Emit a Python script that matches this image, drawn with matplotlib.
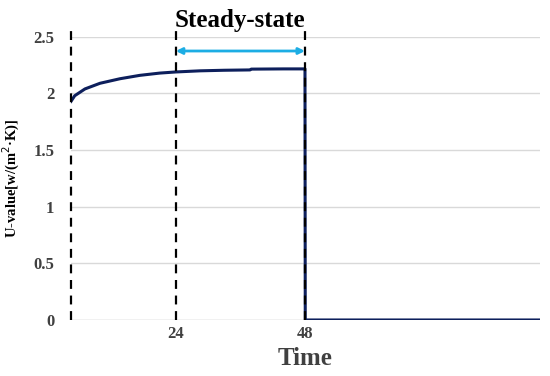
import matplotlib.pyplot as plt

# Values
time_h = [4.5, 5.2, 7.1, 9.9, 13.6, 17.3, 21.0, 24.0, 28.5, 33.0, 37.8, 38.0, 44.0, 48.0,
          48.05, 60.0, 75.0, 91.7]
u_value = [1.93, 1.98, 2.04, 2.09, 2.13, 2.16, 2.18, 2.19, 2.20, 2.205, 2.208, 2.215, 2.217, 2.217,
           0.0, 0.0, 0.0, 0.0]
marks = [4.5, 24, 48]
tick_pos = [24, 48]
tick_labels = ["24", "48"]
y_ticks = [0, 0.5, 1, 1.5, 2, 2.5]
y_tick_labels = ["0", "0.5", "1", "1.5", "2", "2.5"]

serif = "Liberation Serif"

fig = plt.figure(figsize=(5.5, 3.76), dpi=100, facecolor="white")
ax = fig.add_axes([0.129, 0.149, 0.853, 0.753])

ax.plot(time_h, u_value, color="#0d1f5c", lw=2.2, zorder=3)

# dashed markers
for m in marks:
    ax.plot([m, m], [0, 2.57], color="black", ls=(0, (4, 3)), lw=1.6, clip_on=False, zorder=4)

# steady-state arrow
ax.annotate("", xy=(48, 2.375), xytext=(24, 2.375),
            arrowprops=dict(arrowstyle="<|-|>", color="#1cade4", lw=2,
                            mutation_scale=9, shrinkA=0, shrinkB=0))
ax.text(36, 2.585, "Steady-state", ha="center", va="baseline", fontsize=18,
        fontweight="bold", family=serif, color="black")

ax.set_xlim(4.5, 91.7)
ax.set_ylim(0, 2.5)
ax.set_yticks(y_ticks)
ax.set_yticklabels(y_tick_labels)
ax.set_xticks(tick_pos)
ax.set_xticklabels(tick_labels)
for lab in ax.get_xticklabels() + ax.get_yticklabels():
    lab.set_family(serif)
    lab.set_fontweight("bold")
    lab.set_fontsize(12)
    lab.set_color("#404040")
ax.tick_params(length=0, pad=12)
ax.tick_params(axis="x", pad=4)

ax.grid(axis="y", color="#d9d9d9", lw=1)
ax.set_axisbelow(True)
for s in ["top", "right", "left", "bottom"]:
    ax.spines[s].set_visible(False)
ax.axhline(0, color="#d9d9d9", lw=1, zorder=1)

ax.set_xlabel("Time", family=serif, fontweight="bold", fontsize=18, color="#404040", labelpad=4)
ax.set_ylabel("U-value[w/(m$^2$·K)]", family=serif, fontweight="bold", fontsize=10.5,
              color="black", labelpad=8)

fig.savefig("out.png", dpi=100, facecolor="white")
